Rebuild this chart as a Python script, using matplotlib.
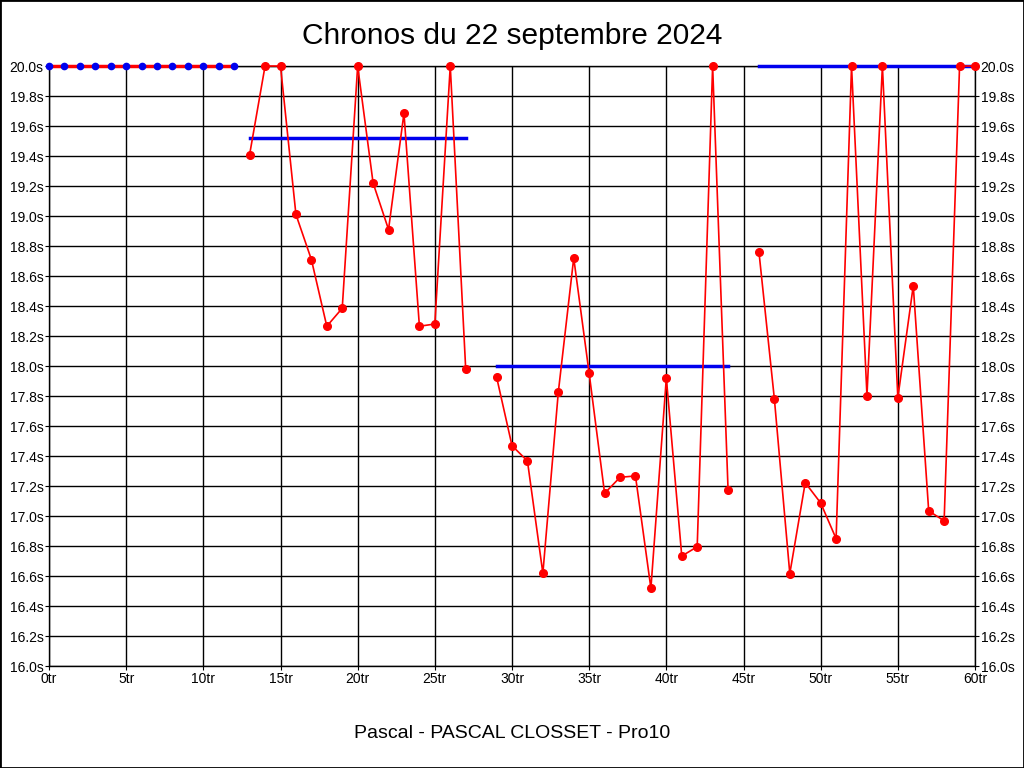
import numpy as np
import matplotlib.pyplot as plt
from matplotlib.patches import Rectangle

plt.rcParams['font.family'] = ['Liberation Sans', 'DejaVu Sans']

# series 0 : tours 0 a 12 (tous a 20.0s)
laps0 = [0, 1, 2, 3, 4, 5, 6, 7, 8, 9, 10, 11, 12]
times0 = [20.0, 20.0, 20.0, 20.0, 20.0, 20.0, 20.0, 20.0, 20.0, 20.0, 20.0, 20.0, 20.0]

# series 1
laps1 = [13, 14, 15, 16, 17, 18, 19, 20, 21, 22, 23, 24, 25, 26, 27]
times1 = [19.41, 20.0, 20.0, 19.01, 18.71, 18.265, 18.385, 20.0, 19.22, 18.91,
          19.685, 18.265, 18.28, 20.0, 17.98]

# series 2
laps2 = [29, 30, 31, 32, 33, 34, 35, 36, 37, 38, 39, 40, 41, 42, 43, 44]
times2 = [17.927, 17.469, 17.367, 16.618, 17.825, 18.72, 17.951, 17.151, 17.258,
          17.267, 16.518, 17.92, 16.733, 16.795, 20.0, 17.173]

# series 3
laps3 = [46, 47, 48, 49, 50, 51, 52, 53, 54, 55, 56, 57, 58, 59, 60]
times3 = [18.761, 17.781, 16.616, 17.222, 17.087, 16.849, 20.0, 17.803, 20.0,
          17.788, 18.535, 17.034, 16.968, 20.0, 20.0]

# lignes bleues (reference par serie)
ref_start = [13, 29, 46]
ref_end = [27, 44, 60]
ref_val = [19.52, 18.0, 20.0]

xticks = [0, 5, 10, 15, 20, 25, 30, 35, 40, 45, 50, 55, 60]
yticks = [16.0, 16.2, 16.4, 16.6, 16.8, 17.0, 17.2, 17.4, 17.6, 17.8,
          18.0, 18.2, 18.4, 18.6, 18.8, 19.0, 19.2, 19.4, 19.6, 19.8, 20.0]

fig = plt.figure(figsize=(10.24, 7.68), dpi=100)
ax = fig.add_axes([49 / 1024, 102 / 768, 926 / 1024, 600 / 768])

ax.set_xlim(0, 60)
ax.set_ylim(16.0, 20.0)
ax.set_xticks(xticks)
ax.set_xticklabels(['%dtr' % t for t in xticks])
ax.set_yticks(yticks)
ax.set_yticklabels(['%.1fs' % t for t in yticks])
ax.grid(True, color='black', linewidth=1.0)
ax.set_axisbelow(True)
ax.tick_params(axis='both', labelsize=10, length=3, width=0.8, color='black', pad=1)
ax.tick_params(axis='y', right=True, labelright=True)
for s in ax.spines.values():
    s.set_linewidth(1.0)

for a, b, v in zip(ref_start, ref_end, ref_val):
    ax.plot([a, b], [v, v], color='#0000ee', linewidth=2.5, zorder=3, clip_on=False)

ax.plot(laps0, times0, color='red', linewidth=2.5, zorder=4, clip_on=False)
ax.plot(laps0, times0, 'o', color='#0000ee', markersize=4.5, zorder=5, clip_on=False)

for lx, ty in [(laps1, times1), (laps2, times2), (laps3, times3)]:
    ax.plot(lx, ty, '-o', color='red', linewidth=1.2, markersize=5.5,
            zorder=4, clip_on=False)

fig.text(0.5, 1 - 36 / 768, 'Chronos du 22 septembre 2024', ha='center', va='center',
         fontsize=21.5)
fig.text(0.5, 1 - 733 / 768, 'Pascal - PASCAL CLOSSET - Pro10', ha='center',
         va='center', fontsize=14)

fig.patches.append(Rectangle((0, 0), 1, 1, transform=fig.transFigure, fill=False,
                             edgecolor='black', linewidth=2))

fig.savefig('out.png', dpi=100)
